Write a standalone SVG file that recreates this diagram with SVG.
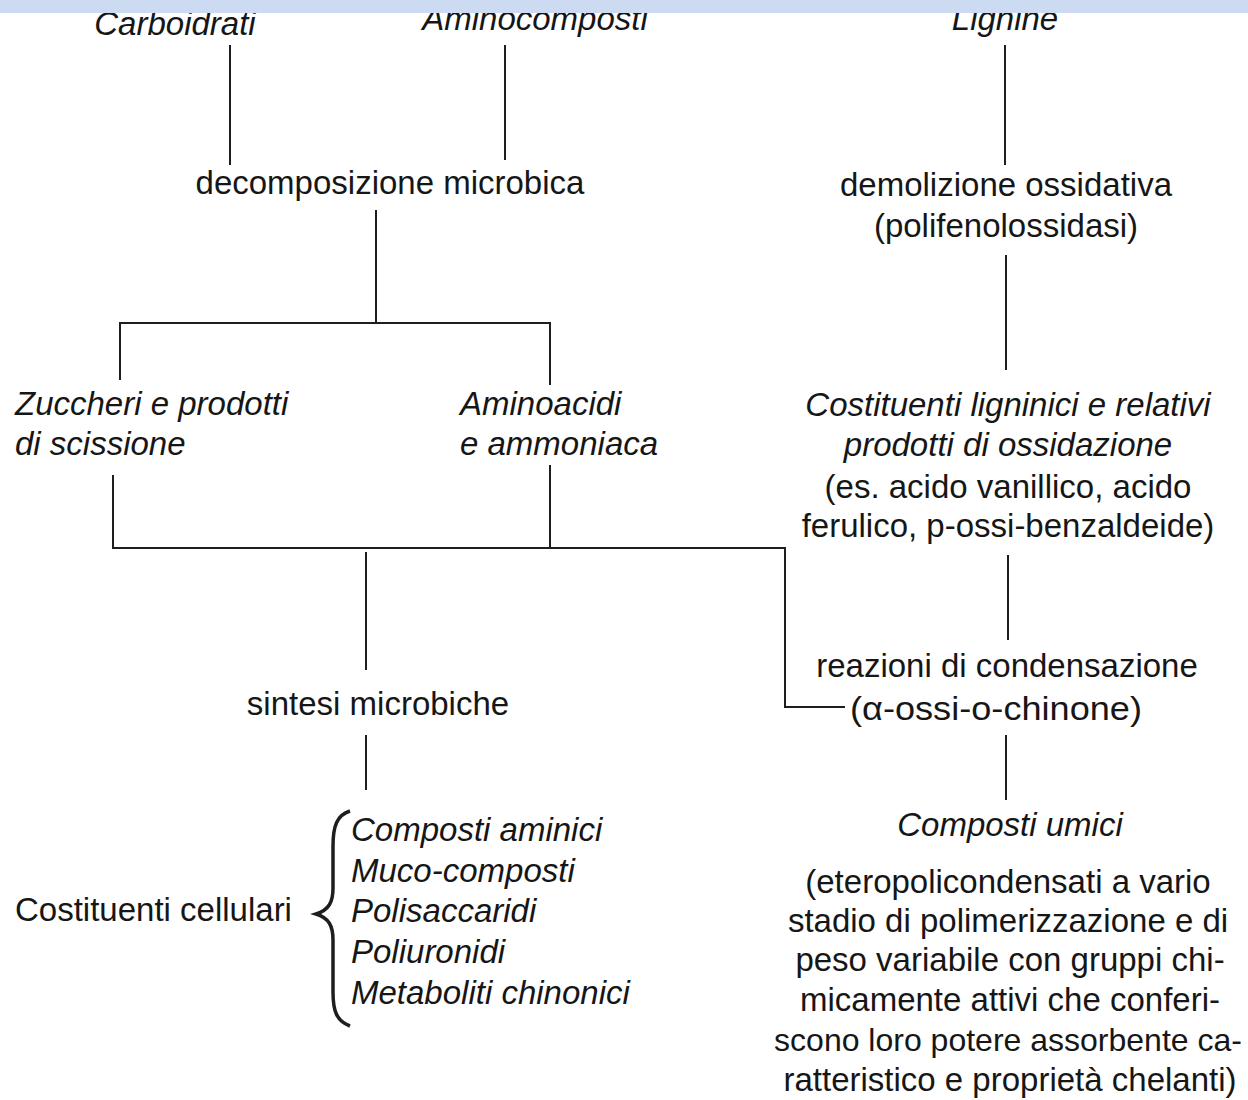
<svg xmlns="http://www.w3.org/2000/svg" width="1248" height="1100" viewBox="0 0 1248 1100">
<style>
text{font-family:"Liberation Sans",Arial,sans-serif;font-size:33px;fill:#161616}
.i{font-style:italic}
.m{text-anchor:middle}
#connectors line,#connectors polyline,#connectors path{stroke:#1e1e1e;stroke-width:2;fill:none}
</style>
<rect width="1248" height="1100" fill="#ffffff"/>
<g id="connectors">
<line x1="230" y1="45" x2="230" y2="165"/>
<line x1="505" y1="45" x2="505" y2="160"/>
<line x1="1005" y1="45" x2="1005" y2="165"/>
<line x1="376" y1="210" x2="376" y2="323"/>
<polyline points="120,380 120,323 550,323 550,385"/>
<line x1="1006" y1="255" x2="1006" y2="370"/>
<polyline points="113,475 113,548 785,548 785,707 845,707"/>
<line x1="550" y1="465" x2="550" y2="548"/>
<line x1="366" y1="552" x2="366" y2="670"/>
<line x1="366" y1="735" x2="366" y2="790"/>
<line x1="1008" y1="555" x2="1008" y2="640"/>
<line x1="1006" y1="735" x2="1006" y2="800"/>
</g>
<g id="n-carboidrati"><text class="i m" x="175" y="35">Carboidrati</text></g>
<g id="n-aminocomposti"><text class="i m" x="535" y="30">Aminocomposti</text></g>
<g id="n-lignine"><text class="i m" x="1005" y="30">Lignine</text></g>
<rect id="scan-band" x="0" y="0" width="1248" height="13" fill="#cddbf2"/>
<g id="n-decomposizione"><text class="m" x="390" y="194">decomposizione microbica</text></g>
<g id="n-demolizione"><text class="m" x="1006" y="196">demolizione ossidativa</text><text class="m" x="1006" y="237">(polifenolossidasi)</text></g>
<g id="n-zuccheri"><text class="i" x="15" y="415">Zuccheri e prodotti</text><text class="i" x="15" y="455">di scissione</text></g>
<g id="n-aminoacidi"><text class="i" x="460" y="415">Aminoacidi</text><text class="i" x="460" y="455">e ammoniaca</text></g>
<g id="n-costituenti-ligninici"><text class="i m" x="1008" y="416">Costituenti ligninici e relativi</text><text class="i m" x="1008" y="456">prodotti di ossidazione</text><text class="m" x="1008" y="498">(es. acido vanillico, acido</text><text class="m" x="1008" y="537">ferulico, p-ossi-benzaldeide)</text></g>
<g id="n-sintesi"><text class="m" x="378" y="715">sintesi microbiche</text></g>
<g id="n-reazioni"><text class="m" x="1007" y="677">reazioni di condensazione</text><text class="m" x="996" y="720" textLength="292" lengthAdjust="spacingAndGlyphs">(α-ossi-o-chinone)</text></g>
<g id="n-costituenti-cellulari"><text x="15" y="921">Costituenti cellulari</text>
<path d="M350,811 C337,815 333,826 333,846 L333,888 C333,902 329,910 316,914 C329,918 333,926 333,940 L333,992 C333,1012 337,1021 350,1026" stroke="#1e1e1e" stroke-width="3.5" fill="none"/>
<text class="i" x="351" y="841">Composti aminici</text><text class="i" x="351" y="882">Muco-composti</text><text class="i" x="351" y="922">Polisaccaridi</text><text class="i" x="351" y="963">Poliuronidi</text><text class="i" x="351" y="1004">Metaboliti chinonici</text></g>
<g id="n-composti-umici"><text class="i m" x="1010" y="836">Composti umici</text>
<text class="m" x="1008" y="893">(eteropolicondensati a vario</text>
<text class="m" x="1008" y="932">stadio di polimerizzazione e di</text>
<text class="m" x="1010" y="971">peso variabile con gruppi chi-</text>
<text class="m" x="1010" y="1011">micamente attivi che conferi-</text>
<text class="m" x="1008" y="1051" style="font-size:32px">scono loro potere assorbente ca-</text>
<text class="m" x="1010" y="1091">ratteristico e proprietà chelanti)</text></g>
</svg>
